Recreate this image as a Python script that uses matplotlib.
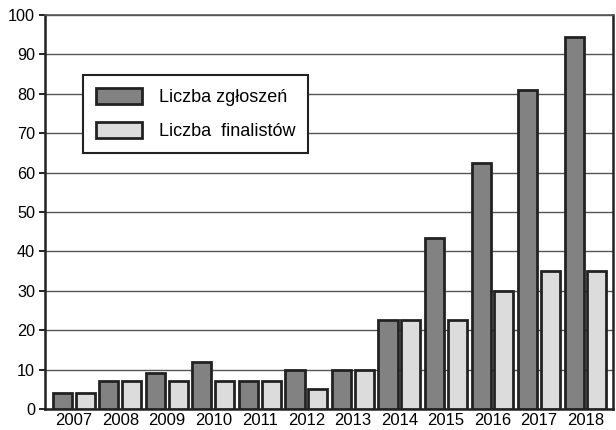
import matplotlib
matplotlib.use("Agg")
import matplotlib.pyplot as plt
import numpy as np
from matplotlib.patches import Patch

years = ["2007", "2008", "2009", "2010", "2011", "2012", "2013",
         "2014", "2015", "2016", "2017", "2018"]
zgloszenia = [4, 7, 9, 12, 7, 10, 10, 22.5, 43.5, 62.5, 81, 94.5]
finalisci = [4, 7, 7, 7, 7, 5, 10, 22.5, 22.5, 30, 35, 35]
labels = ["Liczba zgłoszeń", "Liczba  finalistów"]

DARK = "#828282"
LIGHT = "#dcdcdc"
EDGE = "#222222"

plt.rcParams["font.family"] = ["Liberation Sans", "DejaVu Sans"]

fig = plt.figure(figsize=(6.16, 4.30), dpi=100)
ax = fig.add_axes([0.073, 0.049, 0.922, 0.916])

x = np.arange(len(years))
w = 0.41
ax.bar(x - 0.245, zgloszenia, w, color=DARK, edgecolor=EDGE, linewidth=2, zorder=3)
ax.bar(x + 0.245, finalisci, w, color=LIGHT, edgecolor=EDGE, linewidth=2, zorder=3)

ax.set_xlim(-0.62, 11.59)
ax.set_ylim(0, 100)
ax.set_yticks(range(0, 101, 10))
ax.set_xticks(x)
ax.set_xticklabels(years)
ax.tick_params(axis="x", length=0, pad=3, labelsize=12)
ax.tick_params(axis="y", length=4, width=1.2, labelsize=11.7, pad=3)
ax.grid(True, axis="y", color="#555555", lw=1, zorder=0)
for s in ("left", "bottom", "right"):
    ax.spines[s].set_color("#222222")
    ax.spines[s].set_linewidth(1.8)
ax.spines["top"].set_color("#555555")
ax.spines["top"].set_linewidth(1.2)

handles = [Patch(facecolor=DARK, edgecolor=EDGE, linewidth=2),
           Patch(facecolor=LIGHT, edgecolor=EDGE, linewidth=2)]
leg = ax.legend(handles, labels, loc="upper left", bbox_to_anchor=(0.067, 0.848),
                prop={"size": 13}, frameon=True, fancybox=False, framealpha=1,
                edgecolor="#222222", handlelength=2.55, handleheight=1.0,
                handletextpad=0.95, borderpad=0.7, labelspacing=0.9,
                borderaxespad=0)
leg.get_frame().set_linewidth(1.5)
leg.set_zorder(5)

fig.savefig("out.png", dpi=100)
